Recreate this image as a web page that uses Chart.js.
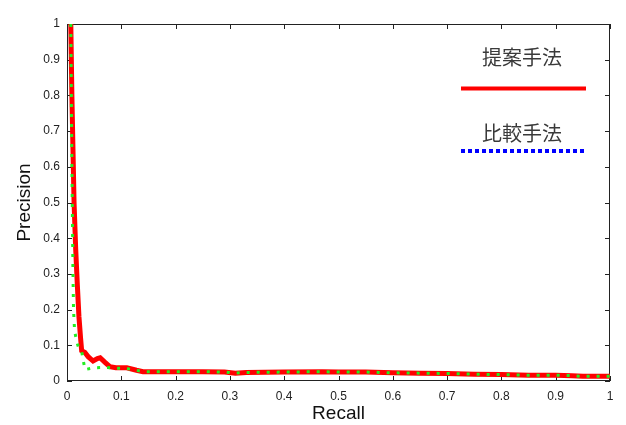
<!DOCTYPE html>
<html><head><meta charset="utf-8">
<script src="https://cdn.jsdelivr.net/npm/chart.js@4"></script>
<style>html,body{margin:0;padding:0;background:#fff}#wrap{width:626px;height:425px}</style>
</head><body><div id="wrap"><canvas id="c" width="626" height="425"></canvas></div>
<script>
const seriesNames = ['提案手法', '比較手法'];
const axisTitles = ['Recall', 'Precision'];
const xTickValues = [0, 0.1, 0.2, 0.3, 0.4, 0.5, 0.6, 0.7, 0.8, 0.9, 1];
const yTickValues = [0, 0.1, 0.2, 0.3, 0.4, 0.5, 0.6, 0.7, 0.8, 0.9, 1];

const proposedRecall = [0.007, 0.009, 0.011, 0.013, 0.016, 0.019, 0.022, 0.025, 0.027, 0.033, 0.039, 0.048, 0.056, 0.061, 0.07, 0.079, 0.09, 0.11, 0.128, 0.14, 0.2, 0.25, 0.29, 0.31, 0.33, 0.4, 0.47, 0.5, 0.55, 0.6, 0.65, 0.7, 0.75, 0.8, 0.85, 0.9, 0.93, 0.95, 1.0];
const proposedPrecision = [1.0, 0.8, 0.65, 0.5, 0.37, 0.27, 0.18, 0.12, 0.085, 0.08, 0.068, 0.056, 0.063, 0.065, 0.052, 0.04, 0.037, 0.037, 0.03, 0.026, 0.026, 0.026, 0.025, 0.022, 0.024, 0.025, 0.026, 0.025, 0.025, 0.023, 0.022, 0.021, 0.019, 0.018, 0.016, 0.016, 0.015, 0.013, 0.013];

const comparisonRecall = [0.007, 0.008, 0.009, 0.01, 0.011, 0.012, 0.014, 0.018, 0.022, 0.027, 0.033, 0.05, 0.07, 0.09, 0.11, 0.128, 0.14, 0.2, 0.25, 0.29, 0.31, 0.33, 0.4, 0.47, 0.5, 0.55, 0.6, 0.65, 0.7, 0.75, 0.8, 0.85, 0.9, 0.93, 0.95, 1.0];
const comparisonPrecision = [1.0, 0.8, 0.6, 0.45, 0.3, 0.2, 0.14, 0.11, 0.09, 0.083, 0.032, 0.037, 0.038, 0.036, 0.035, 0.03, 0.026, 0.026, 0.026, 0.025, 0.022, 0.024, 0.025, 0.026, 0.025, 0.025, 0.023, 0.022, 0.021, 0.019, 0.018, 0.016, 0.016, 0.015, 0.013, 0.013];

const toPoints = (xs, ys) => xs.map((x, i) => ({x: x, y: ys[i]}));
const fmt = v => (v === 0 || v === 1) ? String(v) : v.toFixed(1);

const framePlugin = {
  id: 'frame',
  beforeDatasetsDraw(chart) {
    const {ctx, chartArea: a, scales} = chart;
    ctx.save();
    ctx.strokeStyle = '#222';
    ctx.lineWidth = 1;
    ctx.strokeRect(a.left + 0.5, a.top + 0.5, a.right - a.left - 1, a.bottom - a.top - 1);
    const len = 5;
    ctx.beginPath();
    xTickValues.forEach(v => {
      const px = Math.round(scales.x.getPixelForValue(v)) + 0.5;
      ctx.moveTo(px, a.bottom); ctx.lineTo(px, a.bottom - len);
      ctx.moveTo(px, a.top); ctx.lineTo(px, a.top + len);
    });
    yTickValues.forEach(v => {
      const py = Math.round(scales.y.getPixelForValue(v)) + 0.5;
      ctx.moveTo(a.left, py); ctx.lineTo(a.left + len, py);
      ctx.moveTo(a.right, py); ctx.lineTo(a.right - len, py);
    });
    ctx.stroke();
    ctx.restore();
  }
};

const legendPlugin = {
  id: 'customLegend',
  afterDraw(chart) {
    const ctx = chart.ctx;
    ctx.save();
    ctx.font = '20px "Noto Sans CJK JP"';
    ctx.fillStyle = '#3a3a3a';
    ctx.textAlign = 'center';
    ctx.textBaseline = 'middle';
    ctx.fillText(seriesNames[0], 522, 57);
    ctx.fillText(seriesNames[1], 522, 133);
    ctx.lineWidth = 4;
    ctx.strokeStyle = '#ff0000';
    ctx.beginPath(); ctx.moveTo(461, 88.5); ctx.lineTo(586, 88.5); ctx.stroke();
    ctx.strokeStyle = '#0000ff';
    ctx.setLineDash([4, 3]);
    ctx.beginPath(); ctx.moveTo(461, 151); ctx.lineTo(586, 151); ctx.stroke();
    ctx.restore();
  }
};

new Chart(document.getElementById('c'), {
  type: 'scatter',
  data: {
    datasets: [
      {
        label: seriesNames[0],
        data: toPoints(proposedRecall, proposedPrecision),
        showLine: true,
        borderColor: '#ff0000',
        borderWidth: 5,
        pointRadius: 0,
        tension: 0,
        order: 2
      },
      {
        label: seriesNames[1],
        data: toPoints(comparisonRecall, comparisonPrecision),
        showLine: true,
        borderColor: '#22ee22',
        borderWidth: 3,
        borderDash: [3, 7],
        pointRadius: 0,
        tension: 0,
        order: 1
      }
    ]
  },
  options: {
    responsive: false,
    devicePixelRatio: 1,
    animation: false,
    layout: {padding: {left: 0, right: 16, top: 24, bottom: 0}},
    plugins: {legend: {display: false}, tooltip: {enabled: false}},
    scales: {
      x: {
        type: 'linear', min: 0, max: 1,
        afterBuildTicks: s => { s.ticks = xTickValues.map(v => ({value: v})); },
        afterFit: s => { s.height = 44; },
        grid: {display: false, drawTicks: false, tickLength: 0},
        border: {display: false},
        ticks: {callback: v => fmt(v), color: '#222', font: {family: 'Liberation Sans', size: 12}, padding: 8, maxRotation: 0},
        title: {display: true, text: axisTitles[0], color: '#111', font: {family: 'Liberation Sans', size: 19}, padding: {top: 0, bottom: 0}}
      },
      y: {
        type: 'linear', min: 0, max: 1,
        afterBuildTicks: s => { s.ticks = yTickValues.map(v => ({value: v})); },
        afterFit: s => { s.width = 67; },
        grid: {display: false, drawTicks: false, tickLength: 0},
        border: {display: false},
        ticks: {callback: v => fmt(v), color: '#222', font: {family: 'Liberation Sans', size: 12}, padding: 7},
        title: {display: true, text: axisTitles[1], color: '#111', font: {family: 'Liberation Sans', size: 19}, padding: {top: 13, bottom: 0}}
      }
    }
  },
  plugins: [framePlugin, legendPlugin]
});
</script></body></html>
